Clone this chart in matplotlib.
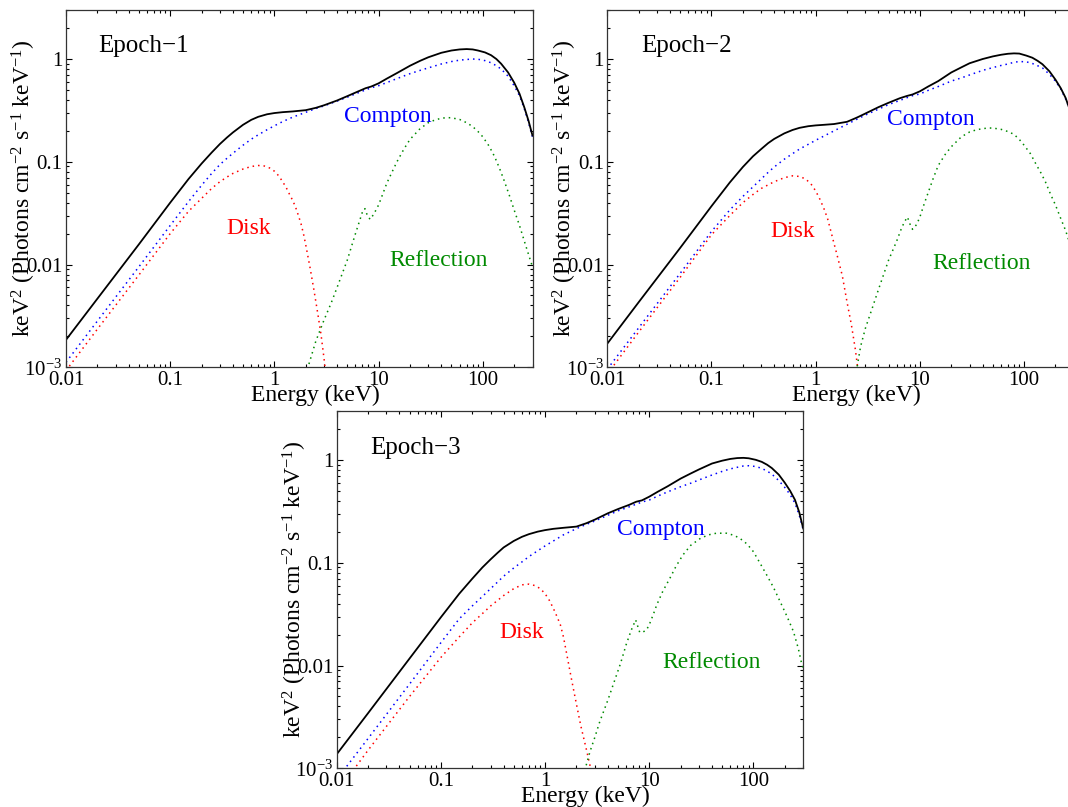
import matplotlib
matplotlib.use('Agg')
import matplotlib.pyplot as plt
from matplotlib.ticker import FixedLocator, FixedFormatter, LogLocator, NullFormatter

plt.rcParams['font.family'] = ['Liberation Serif', 'DejaVu Serif']
plt.rcParams['mathtext.fontset'] = 'custom'
plt.rcParams['mathtext.rm'] = 'Liberation Serif'
plt.rcParams['mathtext.it'] = 'Liberation Serif:italic'
plt.rcParams['mathtext.bf'] = 'Liberation Serif:bold'

# ---------------- data ----------------
panel_titles = ['Epoch\u22121', 'Epoch\u22122', 'Epoch\u22123']

# energy grid (keV) for the total model and the Compton component
E_cont = [0.01, 0.02, 0.05, 0.1, 0.15, 0.2, 0.25, 0.3, 0.35, 0.4, 0.5, 0.6, 0.7, 0.85, 1.0,
          1.2, 1.5, 2, 2.5, 3, 4, 5, 6.4, 7.5, 8.5, 10, 12, 15, 20, 25, 30, 40, 50, 60, 70,
          80, 90, 105, 120, 135, 150, 175, 200, 225, 250, 275, 300]

total_1 = [1.85e-3, 4.65e-3, 0.0157, 0.040, 0.068, 0.096, 0.123, 0.149, 0.172, 0.193, 0.229,
           0.256, 0.274, 0.29, 0.298, 0.304, 0.309, 0.318, 0.335, 0.355, 0.395, 0.435, 0.485,
           0.52, 0.54, 0.58, 0.645, 0.73, 0.86, 0.96, 1.04, 1.15, 1.21, 1.24, 1.25, 1.24,
           1.21, 1.16, 1.09, 1.0, 0.90, 0.74, 0.59, 0.46, 0.34, 0.25, 0.18]
compton_1 = [1.12e-3, 2.82e-3, 9.5e-3, 0.024, 0.041, 0.059, 0.077, 0.094, 0.108, 0.121, 0.145,
             0.166, 0.183, 0.205, 0.224, 0.246, 0.272, 0.303, 0.33, 0.35, 0.39, 0.425, 0.47,
             0.50, 0.525, 0.55, 0.59, 0.645, 0.72, 0.775, 0.82, 0.895, 0.945, 0.975, 0.99,
             1.0, 0.995, 0.965, 0.92, 0.86, 0.80, 0.68, 0.55, 0.44, 0.33, 0.24, 0.175]

total_2 = [1.70e-3, 4.3e-3, 0.0145, 0.037, 0.063, 0.089, 0.113, 0.133, 0.152, 0.167, 0.189,
           0.204, 0.214, 0.222, 0.226, 0.229, 0.233, 0.245, 0.27, 0.295, 0.34, 0.375, 0.415,
           0.437, 0.452, 0.485, 0.54, 0.61, 0.74, 0.83, 0.91, 1.0, 1.06, 1.10, 1.125, 1.135,
           1.13, 1.08, 1.03, 0.96, 0.89, 0.76, 0.63, 0.52, 0.42, 0.32, 0.24]
compton_2 = [9.6e-4, 2.42e-3, 8.2e-3, 0.021, 0.034, 0.046, 0.057, 0.068, 0.079, 0.089, 0.106,
             0.12, 0.133, 0.148, 0.162, 0.178, 0.20, 0.232, 0.26, 0.285, 0.325, 0.36, 0.395,
             0.42, 0.44, 0.457, 0.495, 0.54, 0.61, 0.655, 0.70, 0.775, 0.825, 0.865, 0.895,
             0.93, 0.945, 0.94, 0.905, 0.86, 0.82, 0.71, 0.61, 0.51, 0.41, 0.32, 0.235]

total_3 = [1.37e-3, 3.44e-3, 0.0117, 0.0295, 0.050, 0.070, 0.090, 0.108, 0.125, 0.141, 0.163,
           0.179, 0.19, 0.201, 0.208, 0.214, 0.219, 0.225, 0.243, 0.263, 0.303, 0.333, 0.366,
           0.393, 0.405, 0.44, 0.49, 0.555, 0.66, 0.74, 0.81, 0.925, 0.985, 1.025, 1.045,
           1.05, 1.04, 1.005, 0.96, 0.9, 0.835, 0.72, 0.6, 0.5, 0.41, 0.31, 0.216]
compton_3 = [7.8e-4, 1.95e-3, 6.6e-3, 0.0167, 0.0285, 0.038, 0.047, 0.056, 0.065, 0.074,
             0.089, 0.102, 0.115, 0.131, 0.146, 0.163, 0.187, 0.215, 0.237, 0.255, 0.29, 0.32,
             0.35, 0.372, 0.39, 0.408, 0.445, 0.49, 0.55, 0.595, 0.64, 0.715, 0.775, 0.82,
             0.85, 0.875, 0.88, 0.865, 0.83, 0.78, 0.73, 0.63, 0.54, 0.46, 0.38, 0.29, 0.21]

# disk components
E_disk_1 = [0.01, 0.02, 0.05, 0.1, 0.15, 0.2, 0.25, 0.3, 0.35, 0.4, 0.5, 0.6, 0.7, 0.8, 0.9,
            1.0, 1.1, 1.2, 1.3, 1.4, 1.5, 1.6, 1.7, 1.8, 1.9, 2.0, 2.2, 2.4, 2.6, 2.8, 3.0, 3.3]
disk_1 = [9.3e-4, 2.35e-3, 7.9e-3, 0.020, 0.033, 0.044, 0.055, 0.064, 0.071, 0.077, 0.085,
          0.090, 0.092, 0.091, 0.087, 0.081, 0.073, 0.064, 0.056, 0.048, 0.042, 0.036, 0.030,
          0.025, 0.020, 0.0155, 9.3e-3, 5.6e-3, 3.4e-3, 2.1e-3, 1.2e-3, 5e-4]

E_disk_2 = [0.01, 0.02, 0.05, 0.1, 0.15, 0.2, 0.25, 0.3, 0.4, 0.5, 0.6, 0.7, 0.8, 0.9, 1.0,
            1.1, 1.2, 1.3, 1.4, 1.5, 1.6, 1.8, 2.0, 2.2, 2.4, 2.6, 2.7]
disk_2 = [8.6e-4, 2.2e-3, 7.5e-3, 0.0195, 0.030, 0.040, 0.048, 0.055, 0.064, 0.070, 0.073,
          0.072, 0.068, 0.061, 0.052, 0.043, 0.035, 0.028, 0.021, 0.016, 0.0125, 7.8e-3,
          4.3e-3, 2.6e-3, 1.5e-3, 8e-4, 6e-4]

E_disk_3 = [0.01, 0.02, 0.05, 0.1, 0.15, 0.2, 0.25, 0.3, 0.4, 0.5, 0.6, 0.7, 0.8, 0.9, 1.0,
            1.1, 1.2, 1.3, 1.4, 1.5, 1.6, 1.8, 2.0, 2.2, 2.5, 2.8]
disk_3 = [5.8e-4, 1.5e-3, 5.0e-3, 0.012, 0.019, 0.026, 0.032, 0.038, 0.048, 0.056, 0.061,
          0.062, 0.060, 0.056, 0.050, 0.043, 0.036, 0.030, 0.025, 0.019, 0.0135, 7.2e-3,
          4.2e-3, 2.6e-3, 1.5e-3, 9e-4]

# reflection components
E_refl_1 = [2.0, 2.5, 3, 3.5, 4, 5, 6, 6.6, 7.1, 7.4, 7.8, 8.3, 9, 10, 11, 12, 13.5, 15, 17.5,
            20, 25, 30, 35, 40, 45, 50, 60, 70, 80, 90, 100, 115, 130, 145, 160, 180, 200,
            225, 250, 275, 300]
refl_1 = [8.5e-4, 1.8e-3, 2.9e-3, 4.2e-3, 6.0e-3, 0.011, 0.020, 0.027, 0.034, 0.035, 0.030,
          0.0275, 0.031, 0.038, 0.049, 0.062, 0.080, 0.10, 0.133, 0.165, 0.21, 0.24, 0.256,
          0.265, 0.269, 0.268, 0.258, 0.24, 0.22, 0.197, 0.175, 0.142, 0.112, 0.086, 0.066,
          0.047, 0.034, 0.024, 0.017, 0.0125, 0.0095]

E_refl_2 = [2.4, 2.7, 3, 3.5, 4, 5, 6, 6.6, 7.1, 7.6, 8.0, 8.5, 9.3, 10, 11, 12, 13.5, 15,
            17.5, 20, 25, 30, 35, 40, 45, 50, 60, 70, 80, 90, 100, 115, 130, 145, 160, 180,
            200, 225, 250, 275, 300]
refl_2 = [8e-4, 1.6e-3, 2.4e-3, 3.8e-3, 5.7e-3, 0.011, 0.017, 0.022, 0.026, 0.029, 0.025,
          0.022, 0.0245, 0.029, 0.039, 0.05, 0.07, 0.092, 0.118, 0.14, 0.175, 0.195, 0.205,
          0.21, 0.213, 0.213, 0.207, 0.197, 0.185, 0.165, 0.145, 0.12, 0.095, 0.078, 0.064,
          0.048, 0.038, 0.028, 0.0215, 0.016, 0.012]

E_refl_3 = [2.4, 2.7, 3.0, 3.35, 4.0, 4.5, 5.3, 6.0, 6.7, 7.4, 8.1, 8.7, 9.4, 10, 11, 11.8,
            13.5, 15.8, 18, 21, 25, 31, 37, 44, 55, 65, 74, 87, 100, 115, 134, 155, 180, 210,
            242, 270, 292, 300]
refl_3 = [9.5e-4, 1.46e-3, 2.0e-3, 2.85e-3, 4.6e-3, 6.5e-3, 0.0105, 0.016, 0.022, 0.0278,
          0.021, 0.0212, 0.0222, 0.025, 0.032, 0.039, 0.053, 0.071, 0.092, 0.119, 0.148,
          0.173, 0.187, 0.194, 0.194, 0.185, 0.173, 0.152, 0.128, 0.10, 0.076, 0.058, 0.042,
          0.030, 0.0214, 0.0145, 0.0101, 0.0094]

x_ticks = [0.01, 0.1, 1, 10, 100]
x_tick_labels = ['0.01', '0.1', '1', '10', '100']
y_ticks = [1e-3, 0.01, 0.1, 1]
y_tick_labels = ['$10^{-3}$', '0.01', '0.1', '1']

panels = [
    dict(title=panel_titles[0], total=total_1, compton=compton_1, Ed=E_disk_1, disk=disk_1,
         Er=E_refl_1, refl=refl_1),
    dict(title=panel_titles[1], total=total_2, compton=compton_2, Ed=E_disk_2, disk=disk_2,
         Er=E_refl_2, refl=refl_2),
    dict(title=panel_titles[2], total=total_3, compton=compton_3, Ed=E_disk_3, disk=disk_3,
         Er=E_refl_3, refl=refl_3),
]

# ---------------- layout ----------------
W, H = 1068, 807
fig = plt.figure(figsize=(W / 100, H / 100), dpi=100)

def rect(left_px, top_px, w_px=466.5, h_px=357.3):
    return [left_px / W, 1 - (top_px + h_px) / H, w_px / W, h_px / H]

rects = [rect(66, 10), rect(607.3, 10), rect(336.7, 411)]
lab_pos = [
    dict(epoch=(0.069, 0.899), comp=(0.690, 0.703), disk=(0.392, 0.389), refl=(0.798, 0.300)),
    dict(epoch=(0.072, 0.899), comp=(0.6925, 0.693), disk=(0.397, 0.381), refl=(0.802, 0.291)),
    dict(epoch=(0.0714, 0.896), comp=(0.694, 0.667), disk=(0.397, 0.381), refl=(0.803, 0.295)),
]

BLUE = '#0000ff'
RED = '#ff0000'
GREEN = '#008a00'
dots = (0, (1.0, 2.6))

for p, r, lp in zip(panels, rects, lab_pos):
    ax = fig.add_axes(r)
    ax.set_xscale('log')
    ax.set_yscale('log')
    ax.plot(E_cont, p['compton'], color=BLUE, lw=1.1, linestyle=dots)
    ax.plot(p['Ed'], p['disk'], color=RED, lw=1.1, linestyle=dots)
    ax.plot(p['Er'], p['refl'], color=GREEN, lw=1.1, linestyle=dots)
    ax.plot(E_cont, p['total'], color='black', lw=1.3)
    ax.set_xlim(0.01, 300)
    ax.set_ylim(1e-3, 3.0)

    ax.xaxis.set_major_locator(FixedLocator(x_ticks))
    ax.xaxis.set_major_formatter(FixedFormatter(x_tick_labels))
    ax.yaxis.set_major_locator(FixedLocator(y_ticks))
    ax.yaxis.set_major_formatter(FixedFormatter(y_tick_labels))
    ax.xaxis.set_minor_locator(LogLocator(base=10, subs=range(2, 10), numticks=20))
    ax.yaxis.set_minor_locator(LogLocator(base=10, subs=range(2, 10), numticks=20))
    ax.xaxis.set_minor_formatter(NullFormatter())
    ax.yaxis.set_minor_formatter(NullFormatter())
    ax.tick_params(which='both', direction='in', top=True, right=True, width=0.8,
                   labelsize=15, colors='black')
    ax.tick_params(which='major', length=4.5, pad=2.5)
    ax.tick_params(which='minor', length=2.5)
    for s in ax.spines.values():
        s.set_linewidth(0.9)
        s.set_color('#333333')

    ax.set_xlabel('Energy (keV)', fontsize=17, va='baseline')
    ax.xaxis.set_label_coords(0.534, -0.094)
    ax.set_ylabel(r'keV$^2$ (Photons cm$^{-2}$ s$^{-1}$ keV$^{-1}$)', fontsize=17, va='center')
    ax.yaxis.set_label_coords(-0.09, 0.5)

    ax.text(*lp['epoch'], p['title'], transform=ax.transAxes, fontsize=18,
            ha='left', va='center', color='black')
    ax.text(*lp['comp'], 'Compton', transform=ax.transAxes, fontsize=17,
            ha='center', va='center', color=BLUE)
    ax.text(*lp['disk'], 'Disk', transform=ax.transAxes, fontsize=17,
            ha='center', va='center', color=RED)
    ax.text(*lp['refl'], 'Reflection', transform=ax.transAxes, fontsize=17,
            ha='center', va='center', color=GREEN)

fig.savefig('out.png', dpi=100)
